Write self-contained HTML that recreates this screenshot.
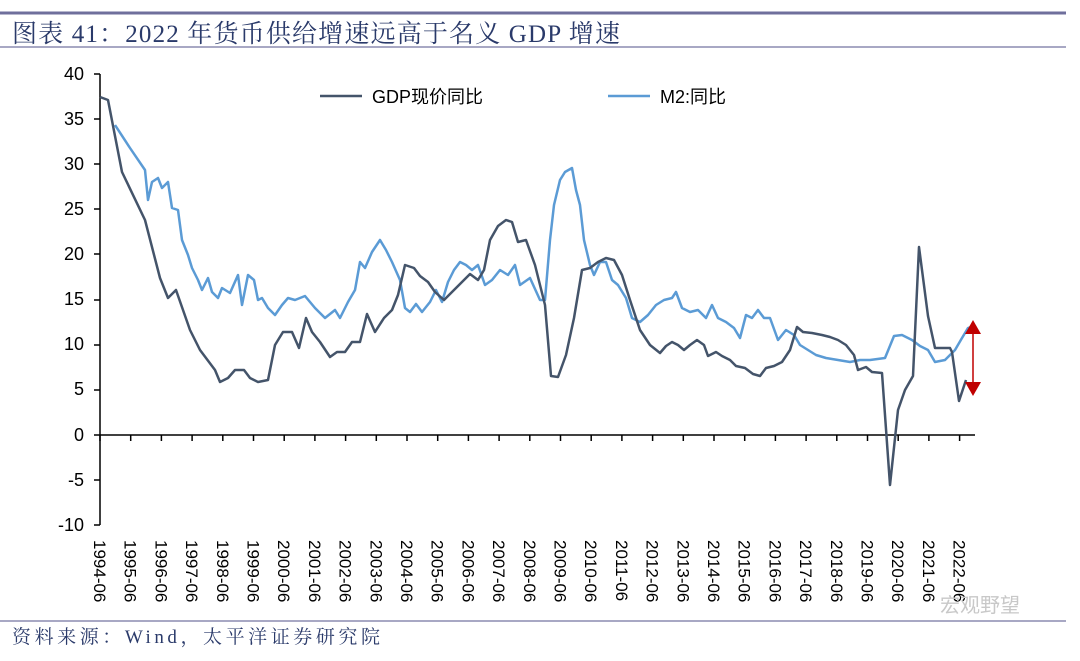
<!DOCTYPE html>
<html><head><meta charset="utf-8"><style>
body{margin:0;background:#fff;width:1080px;height:656px;overflow:hidden}
svg text{font-family:"Liberation Sans","Noto Sans CJK SC",sans-serif}
</style></head><body>
<svg width="1080" height="656" viewBox="0 0 1080 656">
<line x1="0" y1="13" x2="1066" y2="13" stroke="#6f6f9c" stroke-width="3"/>
<line x1="0" y1="47" x2="1066" y2="47" stroke="#8c8cb0" stroke-width="1.5"/>
<text x="12" y="42" font-size="25" fill="#2a3a6a" textLength="608" style="font-family:'Liberation Serif','Noto Serif CJK SC',serif">图表 41：2022 年货币供给增速远高于名义 GDP 增速</text>
<line x1="0" y1="621" x2="1066" y2="621" stroke="#8c8cb0" stroke-width="1.5"/>
<text x="12" y="643" font-size="19" fill="#2a3a6a" textLength="368" style="font-family:'Liberation Serif','Noto Serif CJK SC',serif">资料来源：Wind，太平洋证券研究院</text>
<g font-size="18" fill="#000" text-anchor="end">
<text x="84" y="80">40</text><text x="84" y="125">35</text><text x="84" y="170">30</text><text x="84" y="215">25</text><text x="84" y="260">20</text><text x="84" y="305">15</text><text x="84" y="350">10</text><text x="84" y="395">5</text><text x="84" y="441">0</text><text x="84" y="486">-5</text><text x="84" y="531">-10</text>
</g>
<g stroke="#000" stroke-width="1.5">
<line x1="100" y1="74" x2="100" y2="525"/>
<line x1="100" y1="435" x2="975" y2="435"/>
<line x1="94" y1="74" x2="100" y2="74"/><line x1="94" y1="119" x2="100" y2="119"/><line x1="94" y1="164" x2="100" y2="164"/><line x1="94" y1="209" x2="100" y2="209"/><line x1="94" y1="254" x2="100" y2="254"/><line x1="94" y1="300" x2="100" y2="300"/><line x1="94" y1="345" x2="100" y2="345"/><line x1="94" y1="390" x2="100" y2="390"/><line x1="94" y1="435" x2="100" y2="435"/><line x1="94" y1="480" x2="100" y2="480"/><line x1="94" y1="525" x2="100" y2="525"/>
</g>
<g id="ticks" stroke="#000" stroke-width="1.5"></g>
<g id="labs" font-size="17" fill="#000"></g>
<polyline fill="none" stroke="#5b9bd5" stroke-width="2.5" stroke-linejoin="round" points="115,125 130,148 145,170 148,200 152,182 158,178 162,188 168,182 172,208 178,210 182,240 188,255 192,268 198,280 202,290 208,278 212,292 218,298 222,288 230,293 238,275 242,305 248,275 254,280 258,300 262,298 268,308 275,315 282,305 288,298 295,300 305,296 315,308 325,318 335,310 340,318 348,302 355,290 360,262 365,268 372,252 380,240 386,250 392,262 400,280 405,308 410,312 416,304 422,312 430,302 436,290 442,302 448,282 454,270 460,262 466,265 472,270 478,265 485,285 492,280 500,270 508,275 515,265 520,285 530,278 540,300 545,300 550,240 554,205 560,180 565,172 572,168 576,190 580,205 584,240 590,265 594,275 600,262 606,262 612,280 618,285 626,298 632,318 640,322 648,315 656,305 664,300 672,298 676,292 682,308 690,312 698,310 706,318 712,305 718,318 726,322 734,328 740,338 746,315 752,318 758,310 764,318 770,318 778,340 786,330 794,335 800,345 808,350 816,355 826,358 838,360 850,362 860,360 870,360 885,358 894,336 902,335 912,340 920,346 928,350 935,362 945,360 955,350 962,338 968,328 974,326"/>
<polyline fill="none" stroke="#44546a" stroke-width="2.5" stroke-linejoin="round" points="100,97 108,100 122,172 145,220 160,278 168,298 176,290 190,330 200,350 215,370 220,382 228,378 235,370 244,370 250,378 258,382 268,380 275,345 283,332 292,332 299,348 306,318 312,332 320,342 330,357 337,352 345,352 352,342 360,342 367,314 375,332 384,318 392,310 398,295 405,265 414,268 420,276 428,282 435,292 444,300 452,292 460,284 470,274 478,280 484,270 490,240 498,226 506,220 512,222 518,242 526,240 535,265 545,305 551,376 558,377 566,355 574,318 582,270 590,268 598,262 606,258 614,260 622,275 630,300 640,330 650,345 660,353 666,346 672,342 678,345 684,350 690,345 697,340 704,345 708,356 716,352 722,356 730,360 736,366 745,368 753,374 760,376 766,368 774,366 782,362 790,350 797,327 803,332 812,333 822,335 830,337 838,340 846,345 854,355 858,370 866,367 872,372 882,373 890,485 898,410 905,390 913,376 919,247 928,316 935,348 950,348 952,352 959,401 966,380"/>
<line x1="973" y1="334" x2="973" y2="384" stroke="#c00000" stroke-width="1.5"/>
<polygon points="973,320 965,334 981,334" fill="#c00000"/>
<polygon points="973,396 965,382 981,382" fill="#c00000"/>
<line x1="320" y1="96" x2="362" y2="96" stroke="#44546a" stroke-width="2.5"/>
<text x="372" y="103" font-size="18">GDP现价同比</text>
<line x1="608" y1="96" x2="650" y2="96" stroke="#5b9bd5" stroke-width="2.5"/>
<text x="660" y="103" font-size="18">M2:同比</text>
<text x="940" y="612" font-size="20" fill="#c8c8c8">宏观野望</text>
</svg>
<script>
var t=document.getElementById('ticks'),l=document.getElementById('labs'),ns='http://www.w3.org/2000/svg';
for(var i=0;i<=28;i++){var x=100+i*30.7;
var ln=document.createElementNS(ns,'line');ln.setAttribute('x1',x);ln.setAttribute('x2',x);ln.setAttribute('y1',435);ln.setAttribute('y2',441);t.appendChild(ln);
var tx=document.createElementNS(ns,'text');tx.setAttribute('transform','translate('+(x-6)+',540) rotate(90)');tx.textContent=(1994+i)+'-06';l.appendChild(tx);}
</script>
</body></html>
